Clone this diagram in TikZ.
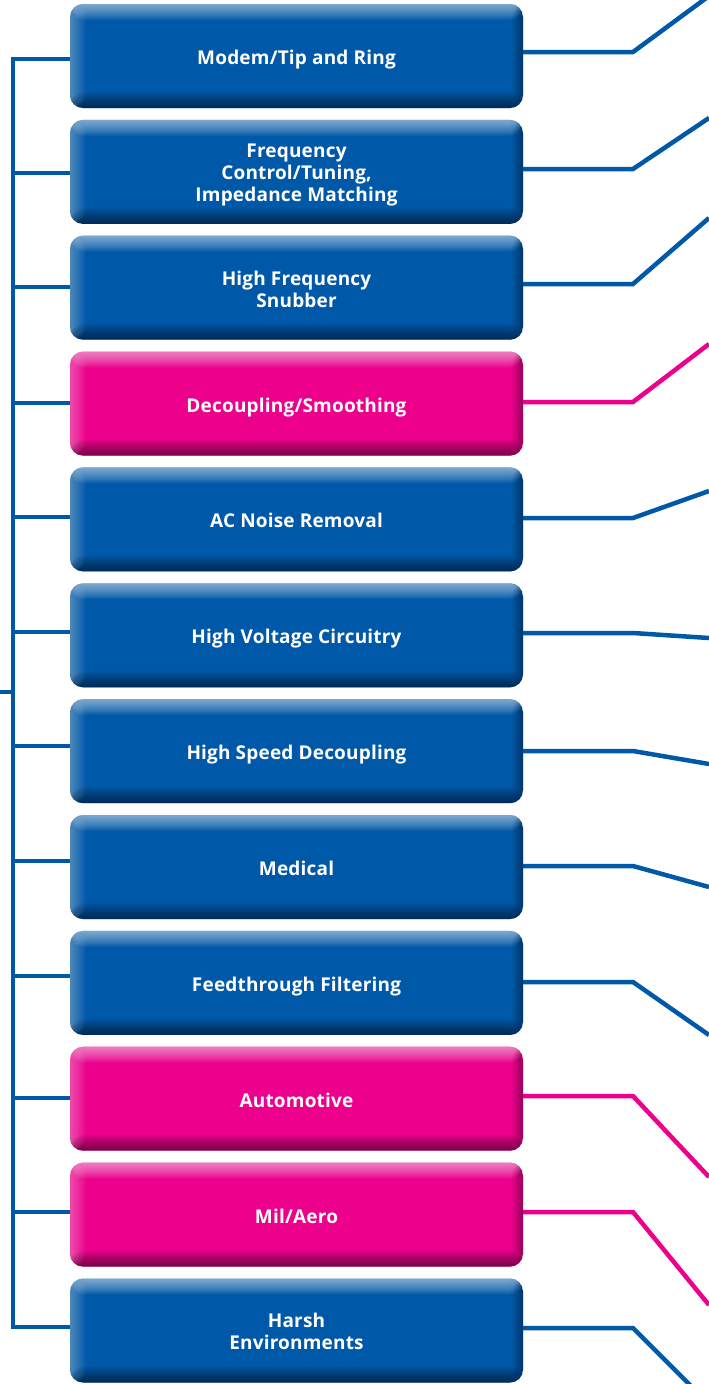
\documentclass[tikz,border=0pt]{standalone}
\usepackage{fontspec}
\setmainfont{Open Sans}[LetterSpace=1]
\definecolor{cblue}{RGB}{0,88,168}
\definecolor{cpink}{RGB}{236,0,140}
\tikzset{
  appbox/.style={minimum width=453pt, minimum height=104pt, rounded corners=13pt,
    fill=#1, inner sep=0pt,
    path picture={
      \foreach \k in {1,...,16} {
        \fill[white, opacity=.042] (path picture bounding box.north west) rectangle ([yshift=-\k pt]path picture bounding box.north east);
        \fill[white, opacity=.024] (path picture bounding box.south west) rectangle ([xshift=\k pt]path picture bounding box.north west);
        \fill[black, opacity=.034] (path picture bounding box.south west) rectangle ([yshift=\k pt]path picture bounding box.south east);
      }
      \foreach \k in {1,...,11} {
        \fill[black, opacity=.032] (path picture bounding box.south east) rectangle ([xshift=-\k pt]path picture bounding box.north east);
      }
    }},
  boxtext/.style={text=white, align=center, inner sep=0pt, yshift=-3.5pt,
    font=\fontsize{19}{22}\selectfont\bfseries,
    execute at begin node=\vphantom{Mgy}, execute at end node=\vphantom{Mgy}},
  conn/.style={draw=#1, line width=4.5pt},
}
\begin{document}
\begin{tikzpicture}[x=1pt, y=-1pt]
\useasboundingbox (0,0) rectangle (709,1384);
\clip (0,0) rectangle (709,1384);
% left bus coordinates
\coordinate (L1) at (13,59);
\coordinate (L2) at (13,173);
\coordinate (L3) at (13,287);
\coordinate (L4) at (13,403);
\coordinate (L5) at (13,517);
\coordinate (L6) at (13,632);
\coordinate (L7) at (13,746);
\coordinate (L8) at (13,861);
\coordinate (L9) at (13,976);
\coordinate (L10) at (13,1098);
\coordinate (L11) at (13,1212);
\coordinate (L12) at (13,1327);
\coordinate (Lmid) at (13,692);
\coordinate (Lin) at (0,692);
% right bends and ends
\coordinate (K1) at (633,52);   \coordinate (E1) at (709,-4);
\coordinate (K2) at (633,169);  \coordinate (E2) at (709,118);
\coordinate (K3) at (633,284);  \coordinate (E3) at (709,218);
\coordinate (K4) at (633,402);  \coordinate (E4) at (709,344);
\coordinate (K5) at (633,518);  \coordinate (E5) at (709,491);
\coordinate (K6) at (633,633);  \coordinate (E6) at (709,638);
\coordinate (K7) at (633,751);  \coordinate (E7) at (709,764);
\coordinate (K8) at (633,866);  \coordinate (E8) at (709,887);
\coordinate (K9) at (633,982);  \coordinate (E9) at (709,1035);
\coordinate (K10) at (633,1096); \coordinate (E10) at (709,1177);
\coordinate (K11) at (633,1212); \coordinate (E11) at (709,1305);
\coordinate (K12) at (633,1328); \coordinate (E12) at (709,1404);
% boxes
\node[appbox=cblue, label={[boxtext]center:Modem/Tip and Ring}] (b1) at (296.5,56.0) {};
\node[appbox=cblue, label={[boxtext]center:Frequency\\Control/Tuning,\\Impedance Matching}] (b2) at (296.5,171.9) {};
\node[appbox=cblue, label={[boxtext]center:High Frequency\\Snubber}] (b3) at (296.5,287.7) {};
\node[appbox=cpink, label={[boxtext]center:Decoupling/Smoothing}] (b4) at (296.5,403.6) {};
\node[appbox=cblue, label={[boxtext]center:AC Noise Removal}] (b5) at (296.5,519.4) {};
\node[appbox=cblue, label={[boxtext]center:High Voltage Circuitry}] (b6) at (296.5,635.3) {};
\node[appbox=cblue, label={[boxtext]center:High Speed Decoupling}] (b7) at (296.5,751.2) {};
\node[appbox=cblue, label={[boxtext]center:Medical}] (b8) at (296.5,867.0) {};
\node[appbox=cblue, label={[boxtext]center:Feedthrough Filtering}] (b9) at (296.5,982.9) {};
\node[appbox=cpink, label={[boxtext]center:Automotive}] (b10) at (296.5,1098.7) {};
\node[appbox=cpink, label={[boxtext]center:Mil/Aero}] (b11) at (296.5,1214.6) {};
\node[appbox=cblue, label={[boxtext]center:Harsh\\Environments}] (b12) at (296.5,1330.5) {};
% left bus
\draw[conn=cblue] (b1.west |- L1) -- (L1) -- (L12) -- (b12.west |- L12);
\foreach \i in {2,...,11} { \draw[conn=cblue] (L\i) -- (b\i.west |- L\i); }
\draw[conn=cblue] (Lin) -- (Lmid);
% right connectors
\foreach \i/\c in {1/cblue,2/cblue,3/cblue,4/cpink,5/cblue,6/cblue,7/cblue,8/cblue,9/cblue,10/cpink,11/cpink,12/cblue} {
  \draw[conn=\c, line join=miter] (b\i.east |- K\i) -- (K\i) -- (E\i);
}
\end{tikzpicture}
\end{document}
